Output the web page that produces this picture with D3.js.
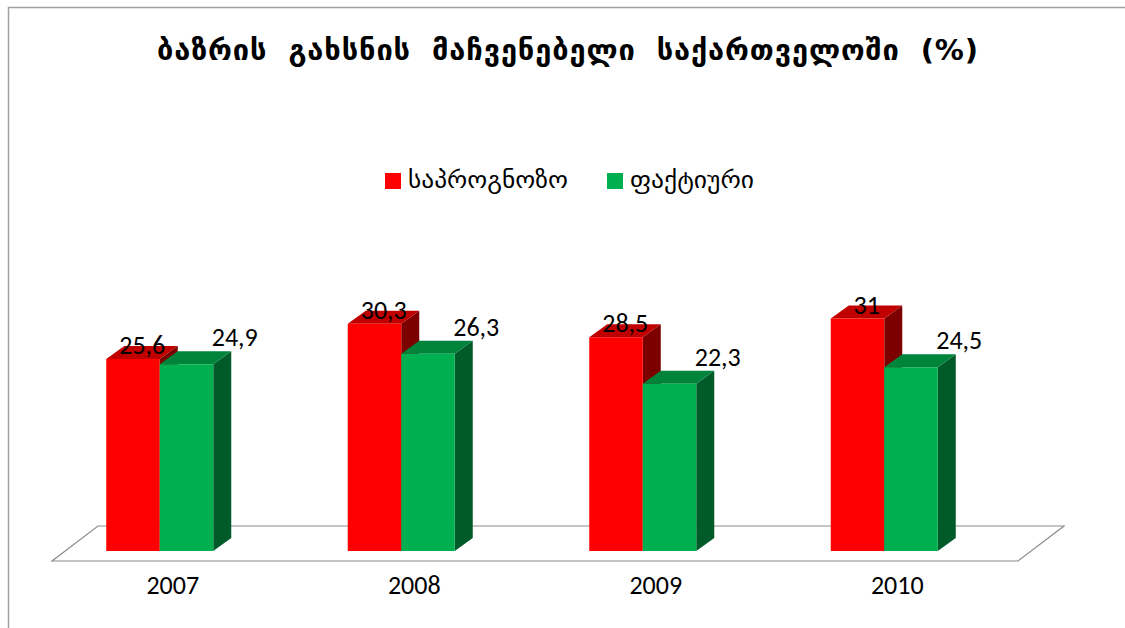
<!DOCTYPE html>
<html>
<head>
<meta charset="utf-8">
<script src="https://cdn.jsdelivr.net/npm/d3@7"></script>
<style>
  html, body { margin: 0; padding: 0; background: #fff; }
  svg { display: block; }
</style>
</head>
<body>
<svg id="chart" width="1125" height="628"></svg>
<script>
// chart values
const years = ["2007", "2008", "2009", "2010"];
const forecast = [25.6, 30.3, 28.5, 31];   // საპროგნოზო
const actual = [24.9, 26.3, 22.3, 24.5];   // ფაქტიური
const seriesNames = ["საპროგნოზო", "ფაქტიური"];
const titleText = "ბაზრის გახსნის მაჩვენებელი საქართველოში (%)";

const fmt = v => String(v).replace(".", ",");

const svg = d3.select("#chart");

// outer border of the chart area (runs off the right / bottom)
svg.append("rect")
    .attr("x", 8.5).attr("y", 7.5)
    .attr("width", 1130).attr("height", 640)
    .attr("fill", "#fff")
    .attr("stroke", "#a0a0a0")
    .attr("stroke-width", 1.5);

// title
svg.append("text")
    .attr("x", 157)
    .attr("y", 60)
    .attr("font-family", "'DejaVu Sans', sans-serif")
    .attr("font-weight", "bold")
    .attr("font-size", 29)
    .attr("word-spacing", 10)
    .attr("textLength", 821)
    .attr("lengthAdjust", "spacing")
    .text(titleText);

// legend
const legendColors = ["#ff0000", "#00b050"];
const legendX = [385, 607];
const legendW = [160, 124];
const legend = svg.append("g")
    .selectAll("g")
    .data(seriesNames)
    .join("g")
    .attr("transform", (d, i) => `translate(${legendX[i]},173)`);
legend.append("rect")
    .attr("width", 16).attr("height", 16)
    .attr("fill", (d, i) => legendColors[i]);
legend.append("text")
    .attr("x", 23)
    .attr("y", 15)
    .attr("font-family", "'DejaVu Sans', sans-serif")
    .attr("font-size", 23)
    .attr("textLength", (d, i) => legendW[i])
    .attr("lengthAdjust", "spacingAndGlyphs")
    .text(d => d);

// scales: floor front edge spans 52..1018
const floorFront = 561;
const x = d3.scaleBand().domain(years).range([52, 1018]);
const y = d3.scaleLinear().domain([0, 40]).range([551, 251]);

// oblique depth of the floor and bars
const floorDx = 46, floorDy = 35;
const depthDx = 18, depthDy = 13;
const barW = 53.5;
const clusterShift = -13;

// floor
svg.append("path")
    .attr("d", `M${x.range()[0]},${floorFront}
                L${x.range()[1]},${floorFront}
                L${x.range()[1] + floorDx},${floorFront - floorDy}
                L${x.range()[0] + floorDx},${floorFront - floorDy}Z`)
    .attr("fill", "#fff")
    .attr("stroke", "#8c8c8c")
    .attr("stroke-width", 1.2);

// bars
const series = [
  { values: forecast, front: "#ff0000", top: "#c00000", side: "#7c0000" },
  { values: actual,   front: "#00b050", top: "#00843c", side: "#005a2a" }
];

const bars = [];
years.forEach((yr, i) => {
  series.forEach((s, k) => {
    const cx = x(yr) + x.bandwidth() / 2 + clusterShift;
    const left = cx - barW + k * barW;
    bars.push({ yr, k, v: s.values[i], left, s });
  });
});

const barG = svg.append("g")
    .selectAll("g")
    .data(bars)
    .join("g");

barG.append("path")   // side
    .attr("d", d => {
      const r = d.left + barW, t = y(d.v), b = y(0);
      return `M${r},${b}L${r},${t}L${r + depthDx},${t - depthDy}L${r + depthDx},${b - depthDy}Z`;
    })
    .attr("fill", d => d.s.side);

barG.append("path")   // top
    .attr("d", d => {
      const l = d.left, r = d.left + barW, t = y(d.v);
      return `M${l},${t}L${r},${t}L${r + depthDx},${t - depthDy}L${l + depthDx},${t - depthDy}Z`;
    })
    .attr("fill", d => d.s.top);

barG.append("rect")   // front
    .attr("x", d => d.left)
    .attr("y", d => y(d.v))
    .attr("width", barW)
    .attr("height", d => y(0) - y(d.v))
    .attr("fill", d => d.s.front);

// value labels
svg.append("g")
    .attr("font-family", "Carlito, Lato, sans-serif")
    .attr("font-size", 26)
    .attr("text-anchor", "middle")
    .selectAll("text")
    .data(bars)
    .join("text")
    .attr("x", d => d.k === 0 ? d.left + 36 : d.left + 75)
    .attr("y", d => d.k === 0 ? y(d.v) - 5 : y(d.v) - 18)
    .text(d => fmt(d.v));

// category axis labels
svg.append("g")
    .attr("font-family", "Carlito, Lato, sans-serif")
    .attr("font-size", 26)
    .attr("text-anchor", "middle")
    .selectAll("text")
    .data(years)
    .join("text")
    .attr("x", d => x(d) + x.bandwidth() / 2)
    .attr("y", 594)
    .text(d => d);
</script>
</body>
</html>
